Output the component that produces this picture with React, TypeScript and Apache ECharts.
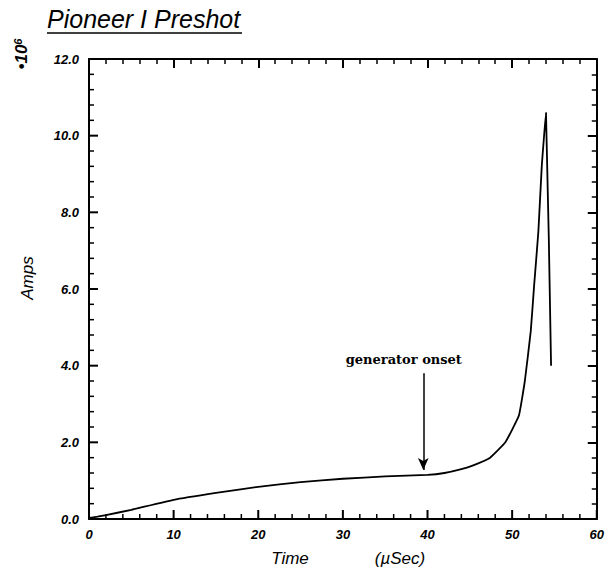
import React, { useEffect, useRef } from "react";
import * as echarts from "echarts";

const timeUs = [0, 1, 2, 5, 10, 15, 20, 25, 30, 35, 40, 42, 44, 45.4, 47.4, 49.2, 50.8, 51.5, 52.2, 52.6, 53.1, 53.5, 54.0, 54.6];
const ampsE6 = [0.03, 0.06, 0.1, 0.24, 0.5, 0.68, 0.84, 0.96, 1.05, 1.11, 1.15, 1.2, 1.3, 1.4, 1.6, 2.0, 2.7, 3.6, 4.9, 6.1, 7.5, 9.2, 10.6, 4.0];
const xRange = [0, 60];
const yRange = [0, 12];
const xStep = 10;
const yStep = 2;
const minorSplit = 5;
const onsetLabel = "generator onset";
const onsetTime = 39.5;
const onsetArrowTop = 3.8;
const onsetArrowTip = 1.28;
const onsetTextPos = [37.2, 4.15];

function tickValues(min: number, max: number, step: number, split: number) {
  const out: number[][] = [];
  const n = Math.round(((max - min) / step) * split);
  for (let i = 0; i <= n; i++) {
    out.push([min + (i * step) / split, i % split === 0 ? 1 : 0]);
  }
  return out;
}

export default function App() {
  const ref = useRef<HTMLDivElement>(null);
  useEffect(() => {
    document.body.style.margin = "0";
    const chart = echarts.init(ref.current!, null, { renderer: "svg" });
    const labelFont = { fontFamily: "Liberation Sans", fontStyle: "italic", fontWeight: "bold", color: "#000" };
    const axisLine = { show: true, onZero: false, lineStyle: { color: "#000", width: 2 } };
    const tickAxis = (min: number, max: number, interval: number, position: string) => ({
      type: "value", min, max, interval, position,
      axisLine,
      axisTick: { show: true, inside: true, length: 9, lineStyle: { color: "#000", width: 2 } },
      minorTick: { show: true, splitNumber: minorSplit, length: 5, lineStyle: { color: "#000", width: 1.5 } },
      axisLabel: { show: false },
      splitLine: { show: false },
    });
    const xTickData = tickValues(xRange[0], xRange[1], xStep, minorSplit);
    const yTickData = tickValues(yRange[0], yRange[1], yStep, minorSplit);
    chart.setOption({
      animation: false,
      backgroundColor: "#fff",
      grid: { left: 89, right: 10, top: 59, bottom: 52 },
      xAxis: [
        { type: "value", min: xRange[0], max: xRange[1], interval: xStep, position: "bottom",
          axisLine,
          axisTick: { show: false },
          axisLabel: { ...labelFont, fontSize: 13, margin: 9, formatter: (v: number) => String(v) },
          splitLine: { show: false } },
        tickAxis(xRange[0], xRange[1], xStep, "top"),
      ],
      yAxis: [
        { type: "value", min: yRange[0], max: yRange[1], interval: yStep, position: "left",
          axisLine,
          axisTick: { show: false },
          axisLabel: { ...labelFont, fontSize: 13, margin: 10, formatter: (v: number) => v.toFixed(1) },
          splitLine: { show: false } },
        tickAxis(yRange[0], yRange[1], yStep, "right"),
      ],
      series: [
        {
          type: "custom",
          name: "bottomTicks",
          xAxisIndex: 0,
          yAxisIndex: 0,
          silent: true,
          clip: false,
          z: 5,
          data: xTickData,
          renderItem: (params: any, api: any) => {
            const v = api.value(0);
            const major = api.value(1) === 1;
            const p = api.coord([v, yRange[0]]);
            const len = major ? 9 : 5;
            return {
              type: "line",
              shape: { x1: p[0], y1: p[1], x2: p[0], y2: p[1] - len },
              style: { stroke: "#000", lineWidth: major ? 2 : 1.5 },
            };
          },
        },
        {
          type: "custom",
          name: "leftTicks",
          xAxisIndex: 0,
          yAxisIndex: 0,
          silent: true,
          clip: false,
          z: 5,
          data: yTickData,
          renderItem: (params: any, api: any) => {
            const v = api.value(0);
            const major = api.value(1) === 1;
            const p = api.coord([xRange[0], v]);
            const len = major ? 9 : 5;
            return {
              type: "line",
              shape: { x1: p[0], y1: p[1], x2: p[0] + len, y2: p[1] },
              style: { stroke: "#000", lineWidth: major ? 2 : 1.5 },
            };
          },
        },
        {
          type: "line",
          xAxisIndex: 0,
          yAxisIndex: 0,
          data: timeUs.map((t, i) => [t, ampsE6[i]]),
          showSymbol: false,
          smooth: 0.1,
          lineStyle: { color: "#000", width: 1.8 },
          markLine: {
            silent: true,
            symbol: ["none", "arrow"],
            symbolSize: [8, 12],
            label: { show: false },
            lineStyle: { color: "#000", width: 1.5, type: "solid" },
            data: [[{ coord: [onsetTime, onsetArrowTop] }, { coord: [onsetTime, onsetArrowTip] }]],
          },
          markPoint: {
            silent: true,
            symbol: "circle",
            symbolSize: 1,
            itemStyle: { color: "rgba(0,0,0,0)" },
            data: [
              {
                coord: onsetTextPos,
                label: {
                  show: true,
                  position: "inside",
                  formatter: onsetLabel,
                  fontFamily: "DejaVu Serif",
                  fontWeight: "bold",
                  fontSize: 13,
                  color: "#000",
                },
              },
            ],
          },
        },
      ],
      graphic: [
        {
          type: "text", left: 47, top: 6,
          style: { text: "Pioneer I Preshot", font: "italic 25px 'Liberation Sans'", fill: "#000" },
        },
        { type: "line", shape: { x1: 47, y1: 33, x2: 242, y2: 33 }, style: { stroke: "#000", lineWidth: 1.5 } },
        {
          type: "text", x: 21, y: 54, rotation: Math.PI / 2,
          style: {
            text: "{a|•10}{b|6}",
            x: 0, y: 0,
            align: "center", verticalAlign: "middle",
            rich: {
              a: { font: "italic bold 17px 'Liberation Sans'", fill: "#000", verticalAlign: "bottom" },
              b: { font: "italic bold 11px 'Liberation Sans'", fill: "#000", verticalAlign: "top" },
            },
          },
        },
        {
          type: "text", x: 27, y: 278, rotation: Math.PI / 2,
          style: { text: "Amps", x: 0, y: 0, align: "center", verticalAlign: "middle", font: "italic 17px 'Liberation Sans'", fill: "#000" },
        },
        {
          type: "text", x: 290, y: 558,
          style: { text: "Time", x: 0, y: 0, align: "center", verticalAlign: "middle", font: "italic 17px 'Liberation Sans'", fill: "#000" },
        },
        {
          type: "text", x: 400, y: 558,
          style: { text: "(µSec)", x: 0, y: 0, align: "center", verticalAlign: "middle", font: "italic 17px 'Liberation Sans'", fill: "#000" },
        },
      ],
    });
    return () => chart.dispose();
  }, []);
  return <div ref={ref} style={{ width: 607, height: 571 }} />;
}
